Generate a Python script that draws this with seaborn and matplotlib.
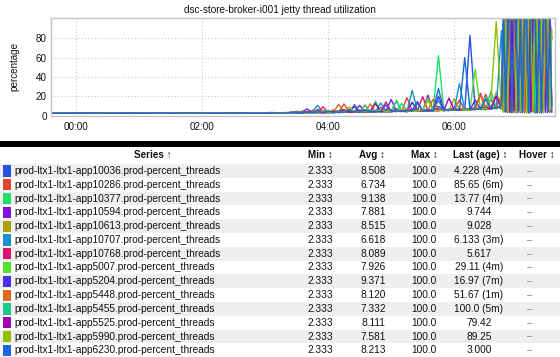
import numpy as np
import pandas as pd
import matplotlib
matplotlib.use("Agg")
import matplotlib.pyplot as plt
from matplotlib.patches import Rectangle
import seaborn as sns

N = np.nan

# ---------------- data ----------------
series_names = [
    "prod-ltx1-ltx1-app10036.prod-percent_threads",
    "prod-ltx1-ltx1-app10286.prod-percent_threads",
    "prod-ltx1-ltx1-app10377.prod-percent_threads",
    "prod-ltx1-ltx1-app10594.prod-percent_threads",
    "prod-ltx1-ltx1-app10613.prod-percent_threads",
    "prod-ltx1-ltx1-app10707.prod-percent_threads",
    "prod-ltx1-ltx1-app10768.prod-percent_threads",
    "prod-ltx1-ltx1-app5007.prod-percent_threads",
    "prod-ltx1-ltx1-app5204.prod-percent_threads",
    "prod-ltx1-ltx1-app5448.prod-percent_threads",
    "prod-ltx1-ltx1-app5455.prod-percent_threads",
    "prod-ltx1-ltx1-app5525.prod-percent_threads",
    "prod-ltx1-ltx1-app5990.prod-percent_threads",
    "prod-ltx1-ltx1-app6230.prod-percent_threads",
]
series_colors = ["#2a50e0", "#e5432f", "#1fe06a", "#7f12dd", "#b3a000", "#1a8fce", "#d81870",
                 "#55e02c", "#4a2ee0", "#e06a1a", "#18c890", "#a000b0", "#8ec000", "#1a66dd"]

col_min = ["2.333"] * 14
col_avg = ["8.508", "6.734", "9.138", "7.881", "8.515", "6.618", "8.089",
           "7.926", "9.371", "8.120", "7.332", "8.111", "7.581", "8.213"]
col_max = ["100.0"] * 14
col_last = ["4.228 (4m)", "85.65 (6m)", "13.77 (4m)", "9.744", "9.028", "6.133 (3m)", "5.617",
            "29.11 (4m)", "16.97 (7m)", "51.67 (1m)", "100.0 (5m)", "79.42", "89.25", "3.000"]
col_hover = ["\u2013"] * 14

# sample times, minutes after 00:00 (23:35 .. 07:33)
times = np.concatenate([np.arange(-25, 201, 15), np.arange(205, 406, 5), np.arange(407, 454, 2)])

v10036 = [2.3,2.4,2.3,2.5,2.3,2.4,2.3,2.3,2.6,2.4,2.3,2.5,2.3,2.4,3.1,2.6,
          2.8,3.4,2.6,4.1,3.0,2.7,5.2,3.1,2.9,3.6,4.4,3.2,11.2,3.5,3.0,4.8,3.9,5.5,3.7,4.2,
          6.8,4.5,3.9,5.1,14.5,4.6,5.8,4.1,9.5,6.2,5.0,7.4,6.1,5.3,83.0,6.6,7.9,5.8,17.0,7.0,10.5,
          100,4.6,100,100,3.1,100,2.8,100,100,5.2,100,3.4,100,100,6.0,100,2.9,100,100,4.4,100,4.228,N,N]
v10286 = [2.3,2.3,2.4,2.3,2.5,2.3,2.3,2.4,2.3,2.6,2.3,2.4,2.3,2.3,2.5,2.8,
          3.1,2.7,4.6,3.2,2.9,6.5,3.3,2.8,4.0,3.5,12.0,3.6,4.2,3.1,5.9,4.0,3.4,8.6,4.3,3.8,
          5.0,4.4,18.5,4.9,5.6,4.1,6.3,5.2,4.7,7.1,5.4,6.0,16.0,5.7,6.5,8.8,6.0,22.0,7.3,9.6,20.5,
          5.1,100,100,3.3,100,100,100,4.2,100,2.7,100,100,35.0,100,3.6,100,100,5.8,100,100,85.65,N,N,N]
v10377 = [2.4,2.3,2.3,2.5,2.3,2.3,2.4,2.3,2.3,2.5,2.4,2.3,2.7,2.3,2.4,2.9,
          2.6,3.8,3.0,2.8,5.4,3.3,3.9,2.9,6.2,3.4,3.1,4.7,3.8,5.3,3.5,4.1,15.0,4.0,3.6,5.6,
          4.3,12.5,4.8,4.2,6.6,5.0,4.5,6.1,62.0,6.8,5.3,7.9,5.9,6.4,5.5,8.3,6.2,19.0,6.9,7.6,9.3,
          100,3.9,100,5.5,100,100,2.9,100,4.7,100,100,100,2.6,100,18.0,100,3.4,100,100,4.1,100,13.77,N,N]
v10594 = [2.3,2.5,2.3,2.3,2.4,2.3,2.6,2.3,2.3,2.4,2.3,2.3,2.5,2.3,2.6,2.4,
          3.3,2.9,3.5,6.8,3.0,3.4,2.8,4.5,3.6,3.2,5.7,3.4,4.0,10.5,3.7,4.4,3.9,5.2,4.6,16.5,
          4.2,5.0,4.4,6.0,5.3,4.8,21.0,5.1,5.9,4.9,6.7,5.6,7.3,6.1,5.8,7.0,6.4,8.7,7.2,8.1,7.5,
          4.6,6.2,100,100,3.5,100,100,5.0,100,3.2,100,100,100,4.3,100,2.8,100,22.0,100,100,3.0,100,100,9.744]
v10613 = [2.3,2.3,2.3,2.4,2.3,2.5,2.3,2.3,2.4,2.3,2.6,2.3,2.3,2.4,2.5,2.7,
          2.9,3.2,2.7,3.6,4.9,3.1,2.8,3.7,5.8,3.3,3.9,3.5,4.6,3.8,11.0,4.2,3.7,4.9,4.0,6.3,
          4.5,4.1,5.4,14.0,4.7,5.5,4.9,7.0,5.2,6.0,5.6,17.5,6.3,5.7,6.8,7.7,6.5,10.1,7.8,24.0,8.4,
          6.4,100,3.8,100,100,3.1,100,100,5.9,100,2.9,100,100,2.7,100,100,4.9,100,2.6,100,100,3.7,100,9.028]
v10707 = [2.3,2.4,2.3,2.3,2.3,2.5,2.3,2.4,2.3,2.3,2.5,2.3,2.4,2.3,2.8,2.5,
          3.0,3.5,2.8,3.2,4.2,10.5,3.1,3.4,2.9,4.9,3.6,3.3,4.4,5.7,3.6,4.0,3.8,13.0,4.1,3.9,
          5.2,4.4,4.0,26.0,4.9,5.3,4.6,5.8,15.5,5.1,5.6,6.2,33.0,5.9,6.6,6.0,7.2,6.5,8.4,7.1,88.0,
          5.3,3.6,100,2.9,100,100,4.4,100,100,100,3.3,100,2.8,100,100,4.7,100,2.6,100,100,100,6.133,N,N]
v10768 = [2.3,2.3,2.5,2.3,2.4,2.3,2.3,2.3,2.5,2.3,2.4,2.3,2.3,2.6,2.4,2.6,
          2.8,4.4,3.1,2.7,3.3,3.0,9.0,3.2,4.1,2.9,3.7,6.4,3.5,3.9,3.4,5.0,4.2,3.8,14.0,4.0,
          4.6,5.7,4.3,4.8,5.2,19.5,4.7,5.4,5.0,6.3,5.5,8.2,5.8,6.4,6.0,7.1,23.0,6.8,7.4,9.0,8.1,
          100,5.0,3.2,100,100,100,3.9,100,5.1,100,100,2.9,100,100,4.0,100,100,100,3.1,100,26.0,100,3.5,5.617]
v5007 = [2.4,2.3,2.3,2.3,2.5,2.3,2.3,2.4,2.3,2.3,2.3,2.6,2.3,2.4,2.3,3.2,
         3.4,2.7,3.0,4.0,3.3,2.9,3.6,5.3,3.1,3.8,3.4,4.1,10.0,3.7,4.3,3.6,5.5,4.1,3.9,4.7,
         16.0,4.4,5.0,4.6,5.9,4.9,18.0,5.3,6.0,5.5,5.1,6.6,5.8,6.2,5.9,48.0,6.7,7.5,9.2,7.0,8.6,
         3.8,100,100,5.6,100,3.6,100,100,100,4.2,100,2.8,100,5.4,100,100,3.3,100,100,2.9,100,29.11,N,N]
v5204 = [2.3,2.3,2.4,2.3,2.3,2.3,2.5,2.3,2.4,2.3,2.3,2.3,2.4,2.5,2.3,2.6,
         3.2,3.0,2.8,3.9,3.1,5.0,3.3,2.9,3.5,4.3,3.4,3.1,9.5,3.6,4.2,3.8,4.6,3.9,6.0,4.5,
         4.1,5.3,4.6,13.5,5.0,4.7,5.6,5.1,20.0,5.4,6.1,5.7,6.3,6.8,6.0,16.0,6.6,7.4,7.0,8.3,9.4,
         100,100,100,100,4.5,100,100,3.0,100,100,3.6,100,100,5.3,100,2.7,100,100,2.9,16.97,N,N,N,N]
v5448 = [2.3,2.3,2.3,2.3,2.4,2.3,2.5,2.3,2.3,2.4,2.3,2.5,2.3,2.3,2.4,2.7,
         2.7,3.1,3.9,2.9,3.4,3.2,4.8,3.0,3.6,11.5,3.3,3.7,3.5,4.5,3.9,12.0,3.8,4.3,4.0,5.8,
         4.4,4.1,6.9,4.5,5.3,4.8,5.0,17.0,5.4,5.1,6.2,5.5,7.6,6.0,6.9,6.3,21.0,7.2,6.8,8.5,18.0,
         4.1,100,5.0,100,100,3.3,100,5.7,100,100,2.8,100,100,100,4.6,100,3.2,100,100,20.0,100,100,51.67,N]
v5455 = [2.3,2.4,2.3,2.3,2.3,2.3,2.4,2.3,2.6,2.3,2.3,2.4,2.3,2.3,2.5,2.4,
         2.9,3.3,3.6,3.0,2.8,4.6,3.2,3.8,3.1,3.5,5.2,3.4,3.9,3.6,10.5,3.8,4.4,4.0,4.8,4.2,
         15.0,4.6,4.3,5.1,4.9,5.7,5.2,4.8,6.5,5.6,5.3,7.0,5.9,6.4,6.1,6.8,7.3,6.6,25.0,7.9,8.8,
         100,3.4,100,100,4.1,100,2.8,100,100,4.9,100,100,3.5,100,100,2.9,100,5.7,100,3.2,100.0,N,N,N]
v5525 = [2.3,2.3,2.4,2.3,2.3,2.5,2.3,2.3,2.3,2.4,2.3,2.3,2.6,2.3,2.4,2.5,
         3.1,2.8,3.3,3.0,4.5,3.2,2.9,3.4,4.0,3.3,6.1,3.6,3.4,4.7,3.7,4.1,12.5,3.9,4.4,4.2,
         5.4,4.5,4.3,6.5,4.8,5.2,4.9,5.5,6.9,5.3,18.0,5.8,5.6,6.3,6.7,6.0,7.6,8.9,6.9,20.0,7.7,
         4.5,100,100,3.6,100,5.2,100,100,3.1,100,100,4.4,100,3.7,100,100,2.8,100,100,4.9,100,3.0,100,79.42]
v5990 = [2.4,2.3,2.3,2.3,2.4,2.3,2.3,2.5,2.3,2.3,2.4,2.3,2.3,2.5,2.3,2.8,
         2.7,3.0,3.4,2.8,3.6,3.1,4.4,3.3,2.9,3.8,3.5,9.0,3.4,4.0,3.7,4.5,3.9,5.9,4.2,4.0,
         4.8,6.2,4.5,5.0,4.7,5.4,15.5,5.1,5.6,5.3,6.0,5.7,7.2,6.2,5.9,6.5,7.0,7.8,16.5,97.0,8.2,
         3.7,100,4.3,100,100,100,3.0,100,4.1,100,100,2.7,100,100,4.6,100,100,3.5,100,2.9,100,100,4.8,89.25]
v6230 = [2.3,2.3,2.3,2.4,2.3,2.3,2.3,2.4,2.3,2.5,2.3,2.3,2.4,2.3,2.3,2.6,
         3.0,2.8,3.2,3.5,2.9,3.7,3.3,4.2,3.1,3.6,3.4,4.9,3.7,3.5,5.4,4.0,3.8,4.3,11.0,4.1,
         4.6,4.4,5.3,4.7,13.0,5.0,5.5,5.2,28.0,5.7,5.4,6.2,5.8,60.0,6.3,6.7,6.4,17.0,7.1,8.0,9.9,
         100,3.9,100,100,3.0,100,100,4.6,100,3.4,100,100,2.6,100,100,100,4.0,100,2.8,100,100,4.5,100,3.000]

all_values = [v10036, v10286, v10377, v10594, v10613, v10707, v10768,
              v5007, v5204, v5448, v5455, v5525, v5990, v6230]

x_tick_pos = [0, 120, 240, 360]
x_tick_labels = ["00:00", "02:00", "04:00", "06:00"]
y_ticks = [0, 20, 40, 60, 80]

bad = [(n, len(v)) for n, v in zip(series_names, all_values) if len(v) != len(times)]
if bad:
    raise ValueError(f"length mismatch {len(times)}: {bad}")

frames = []
for name, vals in zip(series_names, all_values):
    frames.append(pd.DataFrame({"t": times, "value": vals, "series": name}))
df = pd.concat(frames, ignore_index=True).dropna()

# ---------------- figure ----------------
sns.set_theme(style="white")
plt.rcParams["font.family"] = ["Liberation Sans", "DejaVu Sans"]

W, H = 560, 357
fig = plt.figure(figsize=(W / 100, H / 100), dpi=100)
fig.patch.set_facecolor("white")

ax = fig.add_axes([51 / W, 1 - 115.5 / H, 504 / W, 97.5 / H])
sns.lineplot(data=df, x="t", y="value", hue="series", hue_order=series_names,
             palette=series_colors, estimator=None, linewidth=1.0, legend=False, ax=ax)
ax.set_xlim(-24, 456)
ax.set_ylim(0, 101)
ax.set_xticks(x_tick_pos)
ax.set_xticklabels(x_tick_labels)
ax.set_yticks(y_ticks)
ax.tick_params(axis="both", length=0, labelsize=7.1, colors="#111111")
ax.tick_params(axis="x", pad=5)
ax.tick_params(axis="y", pad=3)
ax.grid(True, color="#c8c8c8", linestyle=(0, (1, 2)), linewidth=0.8)
ax.set_axisbelow(True)
for sp in ax.spines.values():
    sp.set_color("#c4c4c4")
    sp.set_linewidth(1.0)
ax.set_xlabel("")
ax.set_ylabel("percentage", fontsize=7.1, color="#111111", labelpad=12)
fig.text(280 / W, 1 - 10 / H, "dsc-store-broker-i001 jetty thread utilization",
         ha="center", va="center", fontsize=7.2, color="#111111")

# ---------------- table ----------------
tax = fig.add_axes([0, 0, 1, (H - 141) / H])
tax.set_xlim(0, W)
tax.set_ylim(H, 141)
tax.axis("off")
tax.add_patch(Rectangle((0, 141), W, 6, facecolor="black", edgecolor="none"))

hy = 155
hdr_kw = dict(ha="center", va="center", fontsize=7.1, fontweight="bold", color="#111111",
              family=["Liberation Sans", "DejaVu Sans"])
tax.text(153, hy, "Series \u2191", **hdr_kw)
tax.text(320, hy, "Min \u2195", **hdr_kw)
tax.text(372, hy, "Avg \u2195", **hdr_kw)
tax.text(424, hy, "Max \u2195", **hdr_kw)
tax.text(480, hy, "Last (age) \u2195", **hdr_kw)
tax.text(537, hy, "Hover \u2195", **hdr_kw)

rh = 13.8
cell_kw = dict(va="center", fontsize=7.25, color="#111111")
for i, name in enumerate(series_names):
    y0 = 164 + rh * i
    yc = y0 + rh / 2
    if i % 2 == 0:
        tax.add_patch(Rectangle((0, y0), W, rh, facecolor="#efefef", edgecolor="none"))
    tax.add_patch(Rectangle((2.5, y0 + 1.3), 8.5, rh - 2.6, facecolor=series_colors[i], edgecolor="none"))
    tax.text(14, yc, name, ha="left", **cell_kw)
    tax.text(320, yc, col_min[i], ha="center", **cell_kw)
    tax.text(373, yc, col_avg[i], ha="center", **cell_kw)
    tax.text(424, yc, col_max[i], ha="center", **cell_kw)
    tax.text(479, yc, col_last[i], ha="center", **cell_kw)
    tax.text(530, yc, col_hover[i], ha="center", va="center", fontsize=7, color="#888888")

fig.savefig("out.png", dpi=100, facecolor="white")
